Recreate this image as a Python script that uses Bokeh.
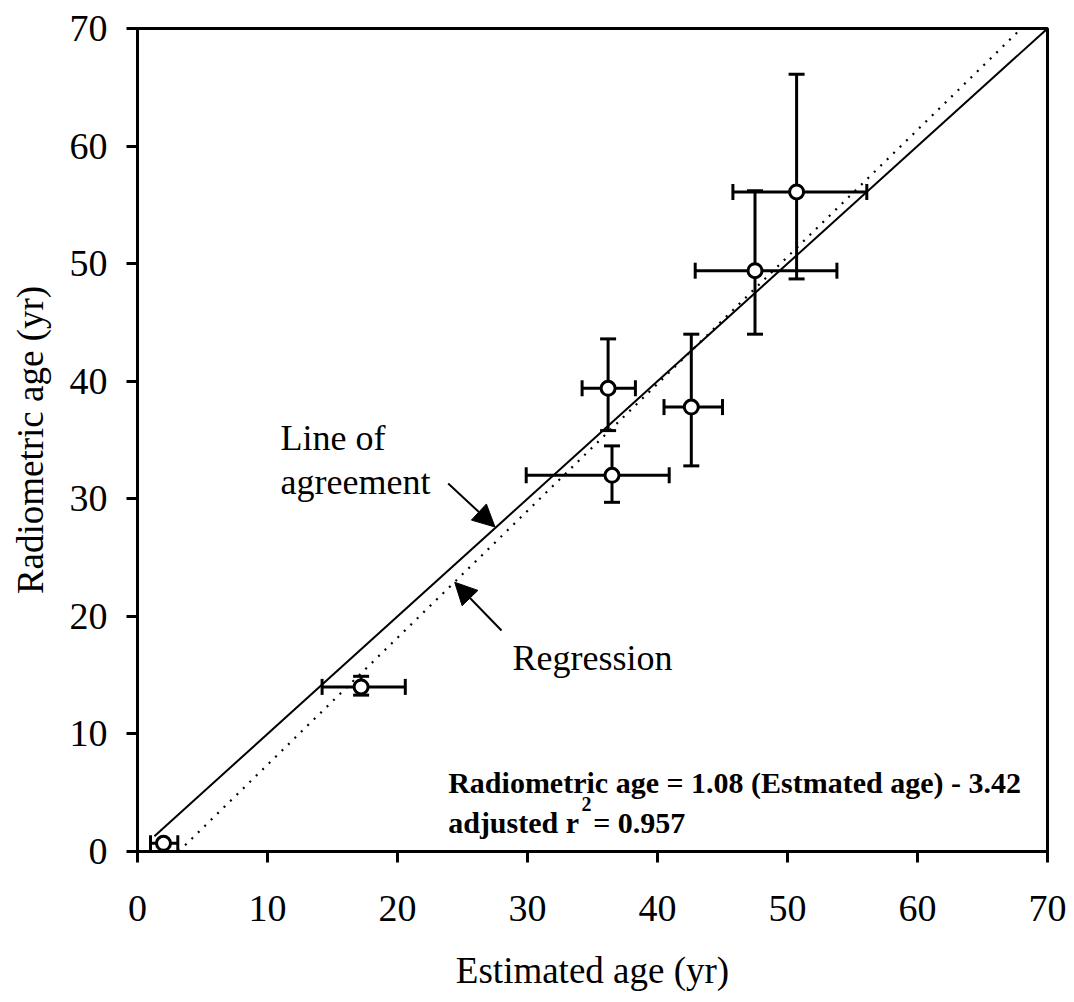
from bokeh.plotting import figure
from bokeh.models import (Range1d, FixedTicker, Whisker, TeeHead, ColumnDataSource,
                          Arrow, NormalHead, Label)
from bokeh.embed import file_html
from bokeh.resources import INLINE

# ---- data ----
est_age = [2.0, 17.2, 36.2, 36.5, 42.6, 47.5, 50.7]
est_low = [1.0, 14.2, 34.2, 29.9, 40.5, 42.9, 45.8]
est_high = [3.1, 20.6, 38.3, 40.9, 45.0, 53.8, 56.1]
rad_age = [0.7, 14.0, 39.4, 32.0, 37.8, 49.4, 56.1]
rad_low = [0.7, 13.3, 35.8, 29.7, 32.8, 44.0, 48.7]
rad_high = [0.7, 14.9, 43.6, 34.5, 44.0, 56.2, 66.1]

reg_slope = 1.08
reg_intercept = -3.42
agree_start = 1.3
ticks = [0, 10, 20, 30, 40, 50, 60, 70]

FONT = "Liberation Serif"

src = ColumnDataSource(dict(x=est_age, xl=est_low, xh=est_high,
                            y=rad_age, yl=rad_low, yh=rad_high))

p = figure(width=1074, height=1002, x_range=Range1d(0, 70), y_range=Range1d(0, 70),
           output_backend="svg", toolbar_location=None,
           min_border_left=137, min_border_right=27, min_border_top=28, min_border_bottom=151,
           background_fill_color="white", border_fill_color="white")
p.xgrid.visible = False
p.ygrid.visible = False
p.outline_line_color = "black"
p.outline_line_width = 3

for ax in (p.xaxis[0], p.yaxis[0]):
    ax.ticker = FixedTicker(ticks=ticks)
    ax.axis_line_width = 3
    ax.major_tick_line_width = 3
    ax.major_tick_out = 11
    ax.major_tick_in = 0
    ax.minor_tick_line_color = None
    ax.major_label_text_font = FONT
    ax.major_label_text_font_size = "38px"
    ax.major_label_text_color = "black"
    ax.axis_label_text_font = FONT
    ax.axis_label_text_font_size = "37px"
    ax.axis_label_text_font_style = "normal"
    ax.axis_label_text_color = "black"

p.xaxis.axis_label = "Estimated age (yr)"
p.yaxis.axis_label = "Radiometric age (yr)"
p.xaxis.major_label_standoff = 33
p.xaxis.axis_label_standoff = 26
p.yaxis.major_label_standoff = 19
p.yaxis.axis_label_standoff = 16

# line of agreement (1:1)
p.line([agree_start, 70], [agree_start, 70], line_color="black", line_width=2)
# regression line
x0 = -reg_intercept / reg_slope
x1 = (70 - reg_intercept) / reg_slope
p.line([x0, x1], [0, 70], line_color="black", line_width=2.2, line_dash="2 7")

# error bars
hw = Whisker(source=src, base="y", lower="xl", upper="xh", dimension="width",
             line_width=3, line_color="black", level="underlay",
             lower_head=TeeHead(size=16, line_width=3), upper_head=TeeHead(size=16, line_width=3))
vw = Whisker(source=src, base="x", lower="yl", upper="yh", dimension="height",
             line_width=3, line_color="black", level="underlay",
             lower_head=TeeHead(size=16, line_width=3), upper_head=TeeHead(size=16, line_width=3))
p.add_layout(hw)
p.add_layout(vw)

p.scatter("x", "y", source=src, marker="circle", size=14, fill_color="white",
          line_color="black", line_width=3)

# annotations
def lab(x, y, t, size, style="normal"):
    p.add_layout(Label(x=x, y=y, text=t, text_font=FONT, text_font_size=size,
                       text_font_style=style, text_color="black",
                       text_align="left", text_baseline="alphabetic"))

lab(11.0, 35.2, "Line of", "36px")
lab(11.0, 31.4, "agreement", "36px")
lab(28.85, 16.5, "Regression", "36px")
lab(23.9, 5.87, "Radiometric age = 1.08 (Estmated age) - 3.42", "30px", "bold")
lab(23.9, 2.47, "adjusted r", "30px", "bold")
lab(34.15, 4.0, "2", "20px", "bold")
lab(35.05, 2.47, "= 0.957", "30px", "bold")

p.add_layout(Arrow(x_start=23.9, y_start=31.3, x_end=27.5, y_end=27.6,
                   line_width=2, line_color="black",
                   end=NormalHead(size=22, fill_color="black", line_color="black")))
p.add_layout(Arrow(x_start=28.0, y_start=18.8, x_end=24.4, y_end=22.9,
                   line_width=2, line_color="black",
                   end=NormalHead(size=22, fill_color="black", line_color="black")))

open("out.html", "w").write(file_html(p, INLINE))
